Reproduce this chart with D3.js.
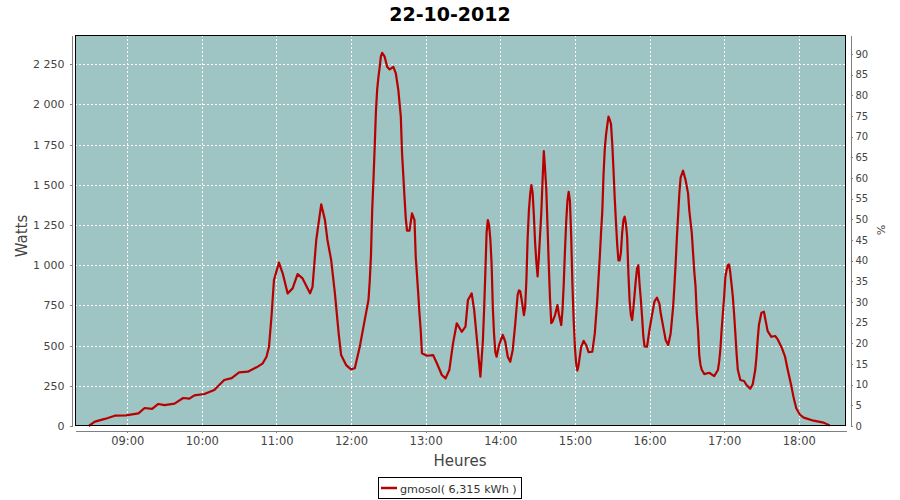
<!DOCTYPE html>
<html>
<head>
<meta charset="utf-8">
<script src="https://cdn.jsdelivr.net/npm/d3@7"></script>
<style>
  html, body { margin: 0; padding: 0; background: #ffffff; }
  svg { display: block; font-family: "DejaVu Sans", Verdana, sans-serif; }
</style>
</head>
<body>
<svg id="chart" width="900" height="500"></svg>
<script>
// ---- Data ----
const chartTitle = "22-10-2012";
const seriesName = "gmosol( 6,315 kWh )";
const times = [
 "08:29","08:34","08:42","08:50","08:59","09:09","09:14","09:20","09:25","09:30",
 "09:38","09:45","09:50","09:54","10:02","10:10","10:18","10:24","10:30","10:37",
 "10:44","10:49","10:52","10:54","10:56","10:58","11:02","11:05","11:09","11:13",
 "11:17","11:21","11:27","11:29","11:32","11:36","11:39","11:41","11:44","11:47",
 "11:50","11:52","11:56","12:00","12:03","12:07","12:10","12:14","12:15","12:16",
 "12:17","12:18","12:19","12:20","12:21","12:22","12:23","12:24","12:25","12:27",
 "12:29","12:31","12:34","12:36","12:38","12:40","12:41","12:42","12:43","12:44",
 "12:45","12:47","12:49","12:51","12:52","12:53","12:54","12:55","12:56","12:57",
 "13:01","13:06","13:09","13:13","13:16","13:19","13:22","13:25","13:29","13:32",
 "13:34","13:37","13:39","13:41","13:43","13:44","13:46","13:47","13:48","13:49",
 "13:50","13:51","13:52","13:53","13:54","13:55","13:56","13:57","13:59","14:02",
 "14:04","14:06","14:08","14:10","14:12","14:13","14:14","14:15","14:16","14:17",
 "14:18","14:19","14:20","14:21","14:22","14:23","14:24","14:25","14:26","14:27",
 "14:28","14:29","14:30","14:31","14:32","14:33","14:34","14:35","14:36","14:37",
 "14:38","14:39","14:40","14:41","14:42","14:43","14:44","14:46","14:47","14:49",
 "14:50","14:51","14:52","14:53","14:54","14:55","14:56","14:57","14:58","14:59",
 "15:00","15:01","15:02","15:03","15:05","15:07","15:09","15:11","15:14","15:16",
 "15:18","15:19","15:20","15:21","15:22","15:23","15:24","15:25","15:26","15:27",
 "15:28","15:29","15:30","15:31","15:32","15:33","15:34","15:35","15:36","15:37",
 "15:38","15:39","15:40","15:41","15:42","15:43","15:44","15:45","15:46","15:47",
 "15:48","15:49","15:50","15:51","15:52","15:53","15:54","15:55","15:56","15:58",
 "16:00","16:02","16:04","16:06","16:08","16:09","16:11","16:13","16:15","16:17",
 "16:19","16:20","16:21","16:22","16:23","16:24","16:25","16:27","16:29","16:31",
 "16:32","16:34","16:36","16:37","16:38","16:39","16:40","16:41","16:42","16:44",
 "16:48","16:52","16:55","16:56","16:57","16:58","16:59","17:00","17:01","17:02",
 "17:03","17:04","17:05","17:06","17:07","17:08","17:09","17:10","17:11","17:13",
 "17:16","17:18","17:21","17:23","17:25","17:26","17:27","17:28","17:30","17:32",
 "17:33","17:35","17:38","17:41","17:43","17:46","17:49","17:51","17:54","17:56",
 "17:58","18:01","18:04","18:12","18:20","18:25"
];
const watts = [
 0,27,44,64,66,79,112,106,137,130,
 139,174,170,191,199,224,286,298,334,338,
 365,390,431,493,680,908,1016,950,825,856,
 945,918,825,866,1157,1379,1281,1157,1032,825,
 578,441,379,352,359,493,618,784,900,1060,
 1345,1530,1737,1958,2094,2170,2230,2300,2321,2297,
 2234,2218,2234,2193,2090,1924,1696,1560,1420,1290,
 1215,1215,1323,1281,1053,940,825,700,597,452,
 437,441,390,317,296,348,514,639,586,618,
 784,825,721,555,390,307,530,727,960,1205,
 1281,1250,1160,1010,735,570,460,431,504,566,
 524,431,400,473,634,726,818,843,838,795,
 743,690,740,910,1170,1340,1440,1499,1450,1310,
 1140,1020,930,1050,1190,1330,1530,1710,1600,1470,
 1240,1000,790,640,650,670,690,752,700,628,
 720,880,1090,1270,1400,1457,1400,1180,880,660,
 490,390,345,380,490,530,504,460,462,576,
 784,920,1050,1200,1330,1560,1720,1810,1870,1924,
 1905,1880,1760,1600,1420,1270,1130,1030,1030,1080,
 1200,1281,1302,1260,1177,950,780,690,659,730,
 820,908,980,1000,880,790,680,560,495,493,
 600,690,775,798,760,701,618,535,504,576,
 742,870,1010,1170,1310,1450,1545,1588,1530,1447,
 1340,1198,960,870,700,600,440,380,350,323,
 331,310,348,400,480,600,700,804,928,970,
 1000,1005,950,880,804,700,580,452,350,286,
 280,255,232,260,348,430,540,630,705,711,
 670,590,555,560,540,493,431,355,250,172,
 110,70,52,33,21,3
];
const wattTicks = [0,250,500,750,1000,1250,1500,1750,2000,2250];
const pctTicks = [0,5,10,15,20,25,30,35,40,45,50,55,60,65,70,75,80,85,90];
const hourTicks = ["09:00","10:00","11:00","12:00","13:00","14:00","15:00","16:00","17:00","18:00"];
const xDomain = ["08:18","18:38"];
const wattMax = 2432;
const pctMax = 94.6;

// ---- Layout ----
const svg = d3.select("#chart");
const plot = {left: 75, right: 846, top: 35, bottom: 426};
const parse = s => d3.timeParse("%Y-%m-%d %H:%M")("2012-10-22 " + s);

const x = d3.scaleTime().domain(xDomain.map(parse)).range([plot.left, plot.right]);
const y = d3.scaleLinear().domain([0, wattMax]).range([plot.bottom, plot.top]);
const y2 = d3.scaleLinear().domain([0, pctMax]).range([plot.bottom, plot.top]);

const loc = d3.formatLocale({decimal: ",", thousands: " ", grouping: [3], currency: ["", ""]});
const fmtW = loc.format(",d");

const data = times.map((t, i) => ({t: parse(t), v: watts[i]}));

// Plot background
svg.append("rect")
  .attr("x", plot.left).attr("y", plot.top)
  .attr("width", plot.right - plot.left).attr("height", plot.bottom - plot.top)
  .attr("fill", "#9ec4c3");

// Grid
const grid = svg.append("g").attr("stroke", "#ffffff").attr("stroke-width", 1)
  .attr("stroke-dasharray", "2,2").attr("shape-rendering", "crispEdges");
grid.selectAll(".hg").data(wattTicks.filter(d => d > 0)).join("line")
  .attr("x1", plot.left).attr("x2", plot.right)
  .attr("y1", d => Math.round(y(d)) + 0.5).attr("y2", d => Math.round(y(d)) + 0.5);
grid.selectAll(".vg").data(hourTicks.map(parse)).join("line")
  .attr("y1", plot.top).attr("y2", plot.bottom)
  .attr("x1", d => Math.round(x(d)) + 0.5).attr("x2", d => Math.round(x(d)) + 0.5);

// Line
const line = d3.line().x(d => x(d.t)).y(d => y(d.v));
svg.append("path").datum(data)
  .attr("d", line).attr("fill", "none")
  .attr("stroke", "#b80000").attr("stroke-width", 2.2)
  .attr("stroke-linejoin", "round");

// Plot border
svg.append("rect")
  .attr("x", plot.left + 0.5).attr("y", plot.top + 0.5)
  .attr("width", plot.right - plot.left - 1).attr("height", plot.bottom - plot.top - 1)
  .attr("fill", "none").attr("stroke", "#000").attr("stroke-width", 1)
  .attr("shape-rendering", "crispEdges");

function styleAxis(g, size) {
  g.selectAll(".domain").attr("stroke", "#808080");
  g.selectAll(".tick line").attr("stroke", "#808080");
  g.selectAll(".tick text").attr("fill", "#444444").attr("font-size", size)
    .attr("font-family", "DejaVu Sans, sans-serif");
  g.attr("shape-rendering", "crispEdges");
}

// Left axis
const gl = svg.append("g").attr("transform", `translate(${plot.left - 3.5},0)`)
  .call(d3.axisLeft(y).tickValues(wattTicks).tickFormat(fmtW).tickSizeInner(2).tickSizeOuter(0).tickPadding(5));
styleAxis(gl, 11);

// Right axis
const gr = svg.append("g").attr("transform", `translate(${plot.right + 4.5},0)`)
  .call(d3.axisRight(y2).tickValues(pctTicks).tickFormat(d3.format("d")).tickSizeInner(2).tickSizeOuter(0).tickPadding(3));
styleAxis(gr, 10);

// Bottom axis
const gb = svg.append("g").attr("transform", `translate(0,${plot.bottom + 4.5})`)
  .call(d3.axisBottom(x).tickValues(hourTicks.map(parse)).tickFormat(d3.timeFormat("%H:%M")).tickSizeInner(2).tickSizeOuter(0).tickPadding(4));
styleAxis(gb, 11.5);

// Axis labels
svg.append("text").attr("transform", "translate(27,236) rotate(-90)")
  .attr("text-anchor", "middle").attr("font-size", 15).attr("fill", "#444")
  .text("Watts");
svg.append("text").attr("transform", "translate(877,230) rotate(90)")
  .attr("text-anchor", "middle").attr("font-size", 11).attr("fill", "#444")
  .text("%");
svg.append("text").attr("x", 460).attr("y", 466)
  .attr("text-anchor", "middle").attr("font-size", 15).attr("fill", "#444")
  .text("Heures");

// Title
svg.append("text").attr("x", 450).attr("y", 21)
  .attr("text-anchor", "middle").attr("font-size", 19).attr("font-weight", "bold")
  .attr("fill", "#000").text(chartTitle);

// Legend
const lg = svg.append("g");
lg.append("rect").attr("x", 378.5).attr("y", 477.5).attr("width", 143).attr("height", 21)
  .attr("fill", "#fff").attr("stroke", "#000").attr("stroke-width", 1).attr("shape-rendering", "crispEdges");
lg.append("line").attr("x1", 381).attr("x2", 397).attr("y1", 488).attr("y2", 488)
  .attr("stroke", "#b80000").attr("stroke-width", 2.5);
lg.append("text").attr("x", 400).attr("y", 492.5).attr("font-size", 11.2).attr("fill", "#333")
  .text(seriesName);
</script>
</body>
</html>
